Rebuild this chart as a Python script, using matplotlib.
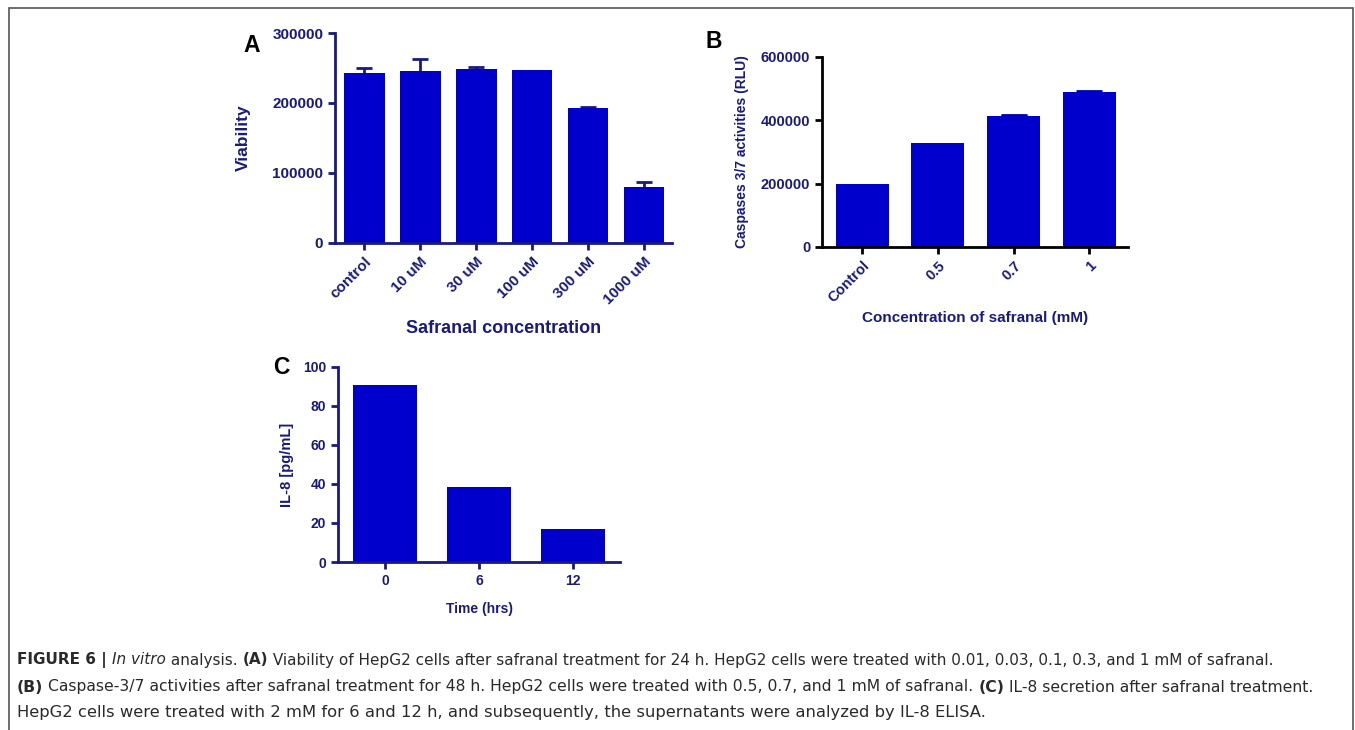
import matplotlib.pyplot as plt
from matplotlib.patches import Rectangle

# Panel A: viability
a_labels = ["control", "10 uM", "30 uM", "100 uM", "300 uM", "1000 uM"]
a_values = [242500, 245500, 248500, 247000, 193000, 80000]
a_errors = [7500, 17000, 3500, 0, 2000, 7000]

# Panel B: caspase 3/7
b_labels = ["Control", "0.5", "0.7", "1"]
b_values = [200000, 328500, 414000, 490000]
b_errors = [0, 0, 1500, 2500]

# Panel C: IL-8
c_labels = ["0", "6", "12"]
c_values = [90.8, 38.5, 17.0]

BAR = "#0000cc"
NAVY = "#1a1a7a"
W, H = 1355, 730

plt.rcParams['font.family'] = ['Liberation Sans', 'DejaVu Sans']

fig = plt.figure(figsize=(W / 100, H / 100), dpi=100)


def px_axes(left, top, right, bottom):
    return fig.add_axes([left / W, 1 - bottom / H, (right - left) / W, (bottom - top) / H])


def style(ax, color, tick_size):
    for s in ["top", "right"]:
        ax.spines[s].set_visible(False)
    for s in ["left", "bottom"]:
        ax.spines[s].set_color(color)
        ax.spines[s].set_linewidth(2)
    ax.tick_params(axis="both", colors=color, width=2, length=5, labelsize=tick_size, labelcolor=NAVY)
    for t in ax.get_xticklabels() + ax.get_yticklabels():
        t.set_fontweight("bold")


def upper_errors(ax, values, errors, **kw):
    # error bars sit behind the bars so only the upper half shows; skip zero errors
    idx = [i for i, e in enumerate(errors) if e > 0]
    ax.errorbar(idx, [values[i] for i in idx], yerr=[errors[i] for i in idx],
                fmt="none", zorder=1, **kw)


# ---- A ----
axA = px_axes(335, 33, 672, 243)
xa = range(len(a_labels))
upper_errors(axA, a_values, a_errors, ecolor=NAVY, elinewidth=2, capsize=5.5, capthick=2)
axA.bar(xa, a_values, width=0.73, color=BAR, zorder=2)
axA.set_xlim(-0.52, 5.5)
axA.set_ylim(0, 300000)
axA.set_yticks([0, 100000, 200000, 300000])
axA.set_yticklabels(["0", "100000", "200000", "300000"])
axA.set_xticks(list(xa))
axA.set_xticklabels(a_labels, rotation=45, ha="right", va="top", rotation_mode="anchor")
style(axA, NAVY, 11)
axA.set_ylabel("Viability", fontsize=12.5, fontweight="bold", color=NAVY, va="center")
axA.yaxis.set_label_coords(-0.273, 0.5)
axA.set_xlabel("Safranal concentration", fontsize=13, fontweight="bold", color=NAVY, va="center")
axA.xaxis.set_label_coords(0.5, -0.405)

# ---- B ----
axB = px_axes(822, 57, 1128, 247)
xb = range(len(b_labels))
upper_errors(axB, b_values, b_errors, ecolor="#0000aa", elinewidth=1.5, capsize=9.5, capthick=2)
axB.bar(xb, b_values, width=0.70, color=BAR, zorder=2)
axB.set_xlim(-0.53, 3.51)
axB.set_ylim(0, 600000)
axB.set_yticks([0, 200000, 400000, 600000])
axB.set_yticklabels(["0", "200000", "400000", "600000"])
axB.set_xticks(list(xb))
axB.set_xticklabels(b_labels, rotation=45, ha="right", va="top", rotation_mode="anchor")
style(axB, "black", 10.5)
axB.set_ylabel("Caspases 3/7 activities (RLU)", fontsize=10, fontweight="bold", color=NAVY, va="center")
axB.yaxis.set_label_coords(-0.26, 0.5)
axB.set_xlabel("Concentration of safranal (mM)", fontsize=11, fontweight="bold", color=NAVY, va="center")
axB.xaxis.set_label_coords(0.5, -0.374)

# ---- C ----
axC = px_axes(338, 367, 620, 562)
xc = range(len(c_labels))
axC.bar(xc, c_values, width=0.68, color=BAR, zorder=2)
axC.set_xlim(-0.5, 2.5)
axC.set_ylim(0, 100)
axC.set_yticks([0, 20, 40, 60, 80, 100])
axC.set_xticks(list(xc))
axC.set_xticklabels(c_labels)
style(axC, NAVY, 10)
axC.set_ylabel("IL-8 [pg/mL]", fontsize=10.5, fontweight="bold", color=NAVY, va="center")
axC.yaxis.set_label_coords(-0.18, 0.5)
axC.set_xlabel("Time (hrs)", fontsize=10, fontweight="bold", color=NAVY, va="center")
axC.xaxis.set_label_coords(0.5, -0.242)

# panel letters
fig.text(252 / W, 1 - 45 / H, "A", fontsize=16.5, fontweight="bold", ha="center", va="center")
fig.text(714 / W, 1 - 42 / H, "B", fontsize=16.5, fontweight="bold", ha="center", va="center")
fig.text(281 / W, 1 - 367 / H, "C", fontsize=16.5, fontweight="bold", ha="center", va="center")

# frame
fig.patches.append(Rectangle((9 / W, -0.05), (1353 - 9) / W, 1.05 - 8 / H, transform=fig.transFigure,
                             fill=False, edgecolor="#555555", linewidth=1.2))

# caption, drawn as runs of differently styled text
caption = [
    [("FIGURE 6 | ", "bold", "normal"), ("In vitro", "normal", "italic"), (" analysis. ", "normal", "normal"),
     ("(A)", "bold", "normal"),
     (" Viability of HepG2 cells after safranal treatment for 24 h. HepG2 cells were treated with 0.01, 0.03, 0.1, 0.3, and 1 mM of safranal.",
      "normal", "normal")],
    [("(B)", "bold", "normal"),
     (" Caspase-3/7 activities after safranal treatment for 48 h. HepG2 cells were treated with 0.5, 0.7, and 1 mM of safranal. ",
      "normal", "normal"),
     ("(C)", "bold", "normal"), (" IL-8 secretion after safranal treatment.", "normal", "normal")],
    [("HepG2 cells were treated with 2 mM for 6 and 12 h, and subsequently, the supernatants were analyzed by IL-8 ELISA.",
      "normal", "normal")],
]
line_y = [660, 687, 713]
line_end = [1275, 1313, 982]
renderer = fig.canvas.get_renderer()


def draw_line(runs, y, size):
    x = 17
    texts = []
    for txt, weight, style_ in runs:
        t = fig.text(x / W, 1 - y / H, txt, fontsize=size, fontweight=weight, fontstyle=style_,
                     color="#2a2a2a", ha="left", va="center", family=["DejaVu Sans"])
        x = t.get_window_extent(renderer).x1
        texts.append(t)
    return texts, x


for runs, y, end in zip(caption, line_y, line_end):
    texts, x = draw_line(runs, y, 10)
    for t in texts:
        t.remove()
    draw_line(runs, y, 10 * (end - 17) / (x - 17))

fig.savefig("out.png", dpi=100)
